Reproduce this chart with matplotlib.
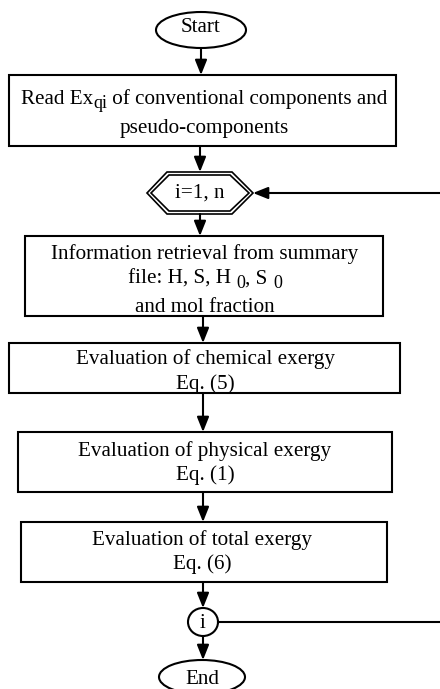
import matplotlib
matplotlib.use("Agg")
import matplotlib.pyplot as plt
from matplotlib.patches import Rectangle, Ellipse, Polygon, FancyArrowPatch

plt.rcParams['font.family'] = ['Liberation Serif', 'DejaVu Serif']

# node texts; a line is a list of (text, is_subscript) pieces
start_label = "Start"
end_label = "End"
loop_label = "i=1, n"
loop_end_label = "i"
box_labels = [
    [[("Read Ex", False), ("qi", True), (" of conventional components and", False)],
     [("pseudo-components", False)]],
    [[("Information retrieval from summary", False)],
     [("file: H, S, H ", False), ("0", True), (", S ", False), ("0", True)],
     [("and mol fraction", False)]],
    [[("Evaluation of chemical exergy", False)], [("Eq. (5)", False)]],
    [[("Evaluation of physical exergy", False)], [("Eq. (1)", False)]],
    [[("Evaluation of total exergy", False)], [("Eq. (6)", False)]],
]

# layout in pixels (x0, y0, x1, y1)
box_geom = [(9, 75, 396, 146), (25, 236, 383, 316), (9, 343, 400, 393),
            (18, 432, 392, 492), (21, 522, 387, 582)]
text_rows = [[99, 129], [254, 279, 307], [359, 384], [451, 475], [540, 564]]
text_x = [204, 205, 205, 205, 202]

fig = plt.figure(figsize=(4.4, 6.89), dpi=100)
ax = fig.add_axes([0, 0, 1, 1])
ax.set_xlim(0, 440)
ax.set_ylim(689, 0)
ax.axis('off')

fs = 15.2
sub_fs = 13
lw = 1.5
renderer = fig.canvas.get_renderer()


def rich_line(cx, y, pieces):
    # lay out text pieces left to right, centred on cx
    arts = []
    for t, sub in pieces:
        a = ax.text(0, y + (5 if sub else 0), t, ha='left', va='center',
                    fontsize=sub_fs if sub else fs)
        arts.append(a)
    widths = [a.get_window_extent(renderer).width for a in arts]
    x = cx - sum(widths) / 2
    for a, w in zip(arts, widths):
        a.set_x(x)
        x += w


for (x0, y0, x1, y1), lines, ys, tx in zip(box_geom, box_labels, text_rows, text_x):
    ax.add_patch(Rectangle((x0, y0), x1 - x0, y1 - y0, fill=False, ec='black', lw=lw))
    for pieces, y in zip(lines, ys):
        rich_line(tx, y, pieces)

# start / end terminals
ax.add_patch(Ellipse((201, 30), 90, 36, fill=False, ec='black', lw=lw))
ax.text(201, 28, start_label, ha='center', va='center', fontsize=fs)
ax.add_patch(Ellipse((202, 677), 86, 34, fill=False, ec='black', lw=lw))
ax.text(202, 680, end_label, ha='center', va='center', fontsize=fs)

# loop hexagon (double line)
hex_out = [(147, 193), (167, 172), (232, 172), (253, 193), (232, 214), (167, 214)]
hex_in = [(151, 193), (169, 175), (230, 175), (249, 193), (230, 211), (169, 211)]
ax.add_patch(Polygon(hex_out, closed=True, fill=False, ec='black', lw=1.2))
ax.add_patch(Polygon(hex_in, closed=True, fill=False, ec='black', lw=1.2))
ax.text(200, 193, loop_label, ha='center', va='center', fontsize=fs)

# loop end connector
ax.add_patch(Ellipse((203, 622), 30, 28, fill=False, ec='black', lw=lw))
ax.text(203, 623, loop_end_label, ha='center', va='center', fontsize=fs)


def arrow(p0, p1):
    a = FancyArrowPatch(p0, p1, arrowstyle='-|>,head_length=9,head_width=3.6',
                        mutation_scale=1, shrinkA=0, shrinkB=0,
                        color='black', lw=lw)
    ax.add_patch(a)


arrow((201, 48), (201, 75))
arrow((200, 146), (200, 172))
arrow((200, 214), (200, 236))
arrow((203, 316), (203, 343))
arrow((203, 393), (203, 432))
arrow((203, 492), (203, 522))
arrow((203, 582), (203, 608))
arrow((203, 636), (203, 660))

# return loop
arrow((440, 193), (253, 193))
ax.plot([218, 440], [622, 622], color='black', lw=lw)

fig.savefig("out.png", dpi=100)
